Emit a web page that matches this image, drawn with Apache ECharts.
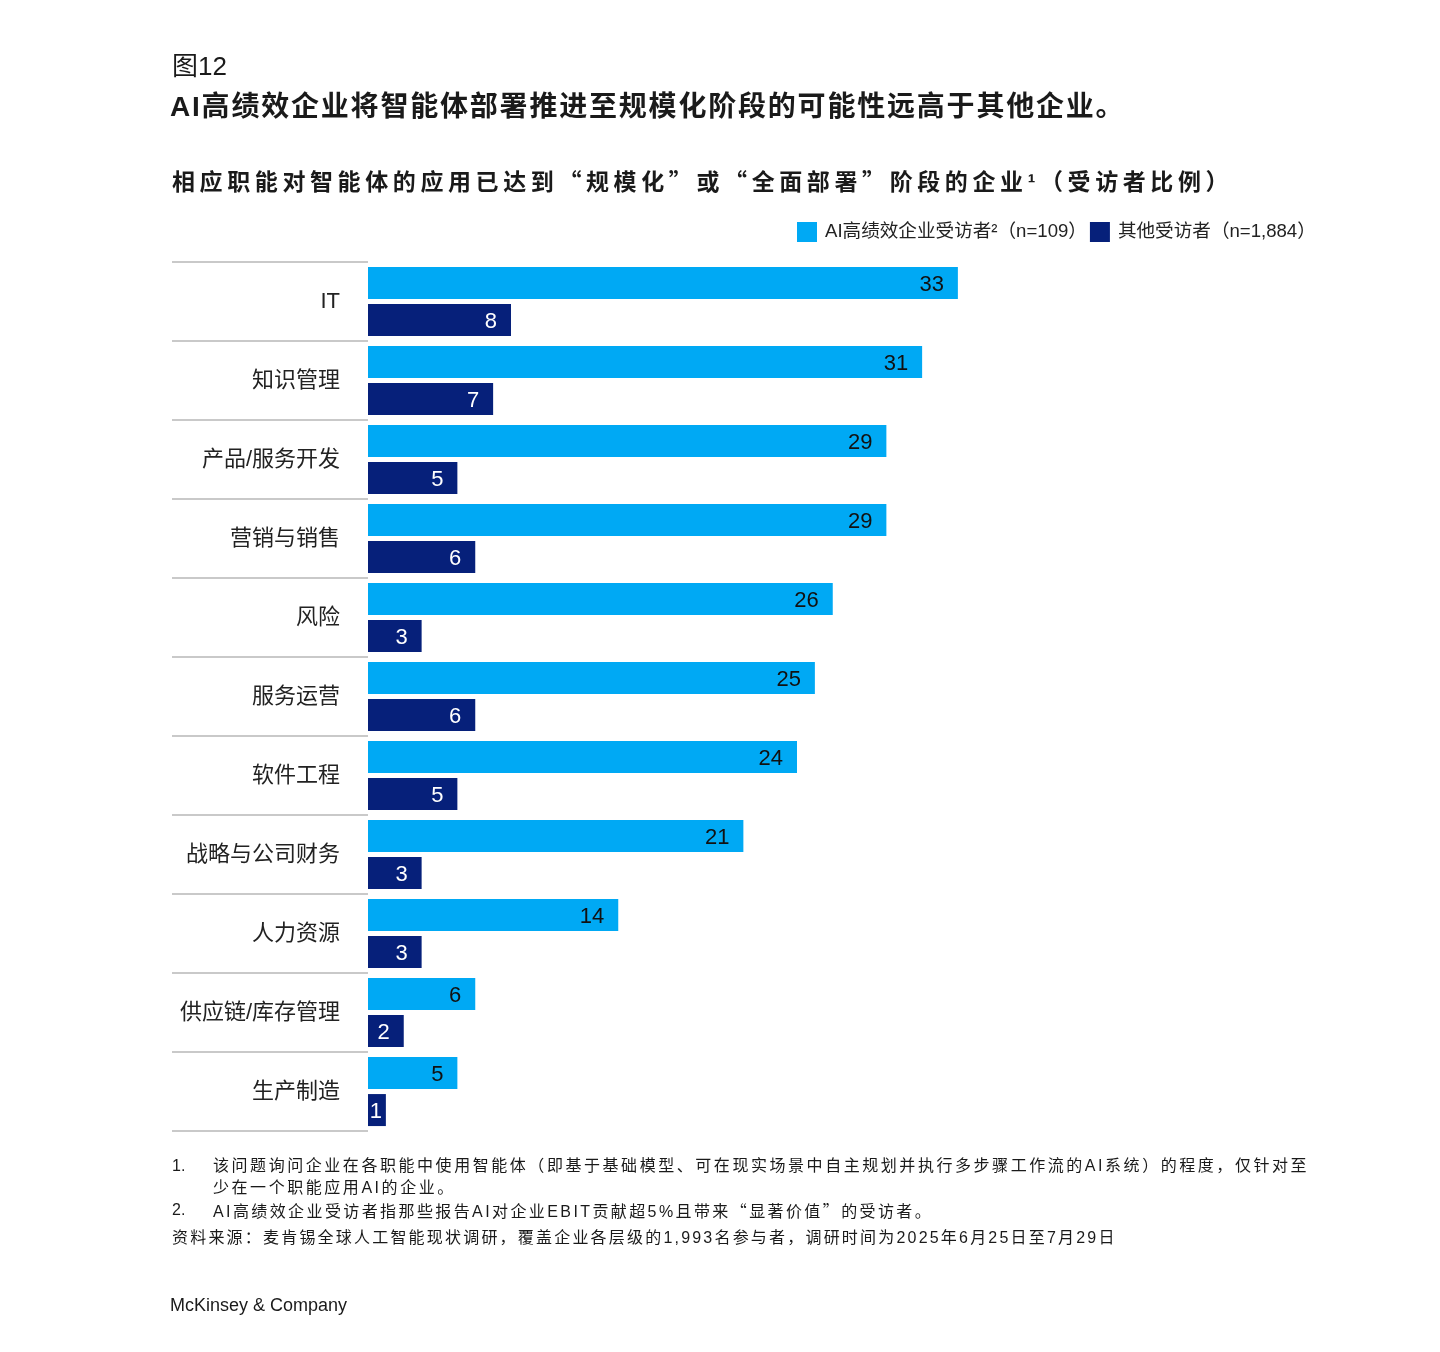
<!DOCTYPE html>
<html>
<head>
<meta charset="utf-8">
<script src="https://cdn.jsdelivr.net/npm/echarts@6/dist/echarts.min.js"></script>
<style>
  html, body { margin:0; padding:0; background:#fff; }
  #wrap { position:relative; width:1440px; height:1352px; }
  #chart { position:absolute; left:0; top:0; width:1440px; height:1352px; }
  .t { position:absolute; white-space:nowrap; color:#1a1a1a; font-family:"Liberation Sans", Arial, "Noto Sans CJK SC", sans-serif; }
  .q { font-family:"Noto Sans CJK SC", sans-serif; }
</style>
</head>
<body>
<div id="wrap">
  <div id="chart"></div>
  <div class="t" style="left:172px; top:48px; font-size:26px; line-height:36px;">图12</div>
  <div class="t" style="left:170px; top:89px; font-size:28px; line-height:36px; font-weight:bold; letter-spacing:1.8px;">AI高绩效企业将智能体部署推进至规模化阶段的可能性远高于其他企业。</div>
  <div class="t" style="left:172px; top:164px; font-size:23px; line-height:32px; font-weight:bold; letter-spacing:4.6px;">相应职能对智能体的应用已达到<span class="q">“</span>规模化<span class="q">”</span>或<span class="q">“</span>全面部署<span class="q">”</span>阶段的企业¹（受访者比例）</div>
  <div class="t" style="left:172px; top:1155px; font-size:16px; line-height:22px;">1.</div>
  <div class="t" style="left:213px; top:1155px; font-size:16px; line-height:22px; letter-spacing:2.55px;">该问题询问企业在各职能中使用智能体（即基于基础模型、可在现实场景中自主规划并执行多步骤工作流的AI系统）的程度，仅针对至<br>少在一个职能应用AI的企业。</div>
  <div class="t" style="left:172px; top:1199px; font-size:16px; line-height:22px;">2.</div>
  <div class="t" style="left:213px; top:1199px; font-size:16px; line-height:22px; letter-spacing:2.4px;">AI高绩效企业受访者指那些报告AI对企业EBIT贡献超5%且带来<span class="q">“</span>显著价值<span class="q">”</span>的受访者。</div>
  <div class="t" style="left:172px; top:1227px; font-size:16px; line-height:22px; letter-spacing:2.2px;">资料来源：麦肯锡全球人工智能现状调研，覆盖企业各层级的1,993名参与者，调研时间为2025年6月25日至7月29日</div>
  <div class="t" style="left:170px; top:1293px; font-size:18px; line-height:24px;">McKinsey &amp; Company</div>
</div>
<script>
const categories = ['IT', '知识管理', '产品/服务开发', '营销与销售', '风险', '服务运营', '软件工程', '战略与公司财务', '人力资源', '供应链/库存管理', '生产制造'];
const highPerformers = [33, 31, 29, 29, 26, 25, 24, 21, 14, 6, 5];
const others = [8, 7, 5, 6, 3, 6, 5, 3, 3, 2, 1];
const seriesNames = ['AI高绩效企业受访者²（n=109）', '其他受访者（n=1,884）'];

const chart = echarts.init(document.getElementById('chart'), null, { renderer: 'canvas' });
const toItems = arr => arr.map(v => v < 2 ? { value: v, label: { distance: 4 } } : v);

chart.setOption({
  animation: false,
  backgroundColor: '#ffffff',
  textStyle: { fontFamily: '"Liberation Sans", Arial, "Noto Sans CJK SC", sans-serif' },
  legend: {
    left: 797, top: 222, padding: 0,
    itemWidth: 20, itemHeight: 20, itemGap: 3,
    icon: 'rect',
    textStyle: { fontSize: 18.6, color: '#222', padding: [0, 0, 0, 3] },
    data: seriesNames
  },
  grid: { left: 368, top: 262, width: 715, height: 869, containLabel: false },
  xAxis: {
    type: 'value', min: 0, max: 40, show: false
  },
  yAxis: {
    type: 'category', data: categories, inverse: true,
    axisLine: { show: false },
    axisTick: { show: true, length: 196, interval: 0, lineStyle: { color: '#c9c9c9', width: 2 } },
    axisLabel: { margin: 28, fontSize: 22, color: '#222', interval: 0 },
    splitLine: { show: false }
  },
  series: [
    {
      name: seriesNames[0], type: 'bar', data: toItems(highPerformers),
      barWidth: 32, barGap: '16%',
      itemStyle: { color: '#00A9F4' },
      label: { show: true, position: 'insideRight', distance: 14, offset: [0, 2], fontSize: 22, color: '#111' }
    },
    {
      name: seriesNames[1], type: 'bar', data: toItems(others),
      barWidth: 32, barGap: '16%',
      itemStyle: { color: '#06207A' },
      label: { show: true, position: 'insideRight', distance: 14, offset: [0, 2], fontSize: 22, color: '#ffffff' }
    }
  ]
});
</script>
</body>
</html>
